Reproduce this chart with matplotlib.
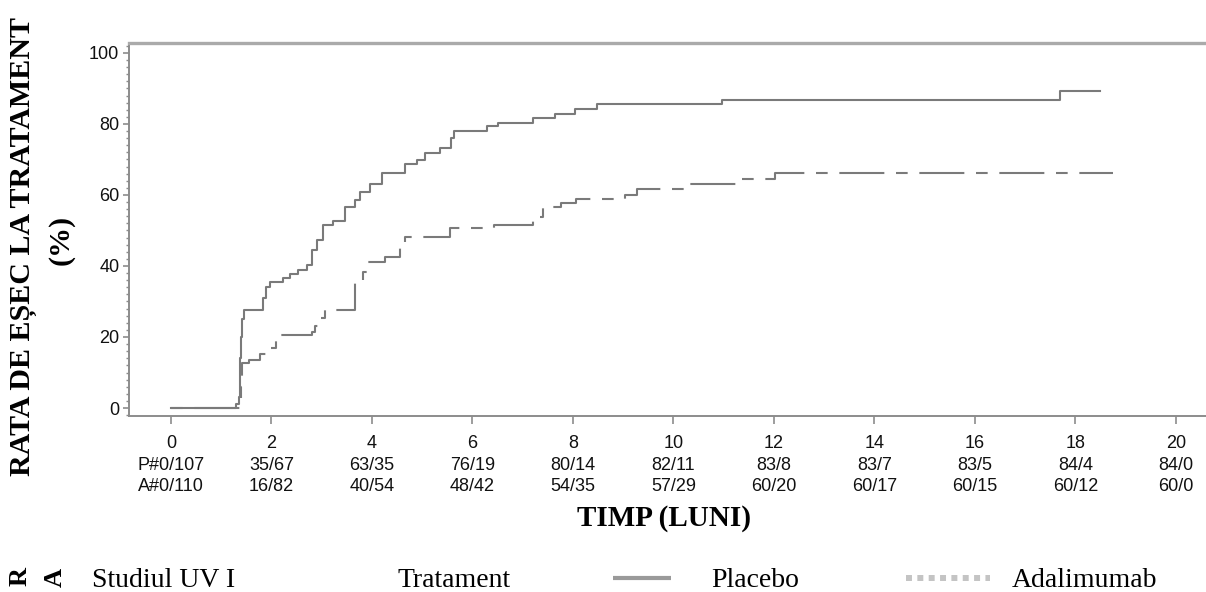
import numpy as np
import matplotlib.pyplot as plt
from matplotlib.lines import Line2D
import matplotlib.ticker as ticker

# step curves: months / % failure
placebo_t = [0, 1.30, 1.36, 1.38, 1.40, 1.42, 1.45, 1.84, 1.90, 1.97, 2.23, 2.37, 2.53, 2.70,
             2.80, 2.90, 3.03, 3.23, 3.46, 3.66, 3.76, 3.96, 4.19, 4.66, 4.89, 5.05, 5.35,
             5.58, 5.63, 6.28, 6.51, 7.21, 7.64, 8.04, 8.47, 10.96, 17.69, 18.49]
placebo_y = [0, 1.0, 3.0, 14.0, 20.0, 25.0, 27.6, 31.0, 34.2, 35.6, 36.5, 37.7, 38.9, 40.3,
             44.5, 47.3, 51.5, 52.8, 56.7, 58.6, 60.9, 63.1, 66.3, 68.6, 69.9, 71.9, 73.3,
             76.0, 77.9, 79.3, 80.4, 81.6, 82.8, 84.1, 85.5, 86.8, 89.3, 89.3]

ada_t = [0, 1.40, 1.41, 1.55, 1.77, 2.00, 2.08, 2.10, 2.80, 2.87, 2.97, 3.06, 3.66, 3.83,
         3.93, 4.25, 4.56, 4.66, 5.55, 6.42, 7.20, 7.41, 7.77, 8.07, 9.03, 9.27, 10.29,
         11.26, 12.02, 18.75]
ada_y = [0, 6.0, 12.6, 13.5, 15.2, 16.8, 19.0, 20.6, 21.5, 23.1, 25.3, 27.6, 35.2, 38.4,
         41.2, 42.6, 45.4, 48.2, 50.6, 51.5, 53.9, 56.7, 57.6, 58.8, 60.0, 61.6, 63.0,
         64.4, 66.1, 66.1]

months = [0, 2, 4, 6, 8, 10, 12, 14, 16, 18, 20]
at_risk_p = ['P#0/107', '35/67', '63/35', '76/19', '80/14', '82/11', '83/8', '83/7', '83/5', '84/4', '84/0']
at_risk_a = ['A#0/110', '16/82', '40/54', '48/42', '54/35', '57/29', '60/20', '60/17', '60/15', '60/12', '60/0']

W, H = 1206, 592
def fx(px):
    return px / W
def fy(py):
    return 1 - py / H

serif = 'Liberation Serif'
sans = 'Liberation Sans'

fig = plt.figure(figsize=(W / 100, H / 100), dpi=100)
ax = fig.add_axes([fx(129), fy(416), 1 - fx(129), (416 - 43) / H])

ax.step(placebo_t, placebo_y, where='post', color='#7a7a7a', linewidth=1.5)
ax.step(ada_t, ada_y, where='post', color='#7a7a7a', linewidth=1.5,
        linestyle=(0, (5.6, 5.6, 21.6, 5.6)))

ax.set_xlim(-0.836, 20.6)
ax.set_ylim(-2.25, 102.8)

ax.spines['right'].set_visible(False)
ax.spines['top'].set_color('#aaaaaa')
ax.spines['top'].set_linewidth(2.4)
ax.spines['left'].set_color('#8c8c8c')
ax.spines['left'].set_linewidth(1.4)
ax.spines['bottom'].set_color('#8c8c8c')
ax.spines['bottom'].set_linewidth(1.4)

ax.yaxis.set_major_locator(ticker.MultipleLocator(20))
ax.yaxis.set_minor_locator(ticker.MultipleLocator(2))
ax.set_xticks(months)
ax.set_xticklabels([f'{m}\n{p}\n{a}' for m, p, a in zip(months, at_risk_p, at_risk_a)],
                   fontfamily=sans, fontsize=13, linespacing=1.32, color='#111111')
for lab in ax.get_yticklabels():
    lab.set_fontfamily(sans)
ax.tick_params(axis='y', which='major', direction='out', length=4, width=1.2,
               color='#8c8c8c', labelsize=13, labelcolor='#111111', pad=3)
ax.tick_params(axis='y', which='minor', direction='out', length=2.2, width=1.0, color='#8c8c8c')
ax.tick_params(axis='x', which='major', direction='out', length=6, width=1.2,
               color='#8c8c8c', pad=8)
ax.tick_params(axis='x', which='minor', bottom=False)

# y label, two lines, bold serif
fig.text(fx(24), fy(246), 'RATA DE EȘEC LA TRATAMENT', rotation=90, ha='center', va='center',
         fontfamily=serif, fontweight='bold', fontsize=21.6)
fig.text(fx(61), fy(240), '(%)', rotation=90, ha='center', va='center',
         fontfamily=serif, fontweight='bold', fontsize=21.6)

fig.text(fx(664), fy(518), 'TIMP (LUNI)', ha='center', va='center',
         fontfamily=serif, fontweight='bold', fontsize=21)

# stray rotated letters bottom left
fig.text(fx(20), fy(577), 'R', rotation=90, ha='center', va='center',
         fontfamily=serif, fontweight='bold', fontsize=19)
fig.text(fx(55), fy(577), 'A', rotation=90, ha='center', va='center',
         fontfamily=serif, fontweight='bold', fontsize=19)

# legend row
base = fy(587)
fig.text(fx(92), base, 'Studiul UV I', ha='left', va='baseline', fontfamily=serif, fontsize=20)
fig.text(fx(397), base, 'Tratament', ha='left', va='baseline', fontfamily=serif, fontsize=20)
fig.text(fx(711), base, 'Placebo', ha='left', va='baseline', fontfamily=serif, fontsize=20)
fig.text(fx(1012), base, 'Adalimumab', ha='left', va='baseline', fontfamily=serif, fontsize=20)
fig.add_artist(Line2D([fx(613), fx(671)], [fy(578), fy(578)], color='#9a9a9a', linewidth=3,
                      solid_capstyle='butt'))
fig.add_artist(Line2D([fx(906), fx(990)], [fy(578), fy(578)], color='#c4c4c4', linewidth=4.3,
                      linestyle=(0, (1, 0.9)), dash_capstyle='butt'))

fig.savefig('out.png', dpi=100)
